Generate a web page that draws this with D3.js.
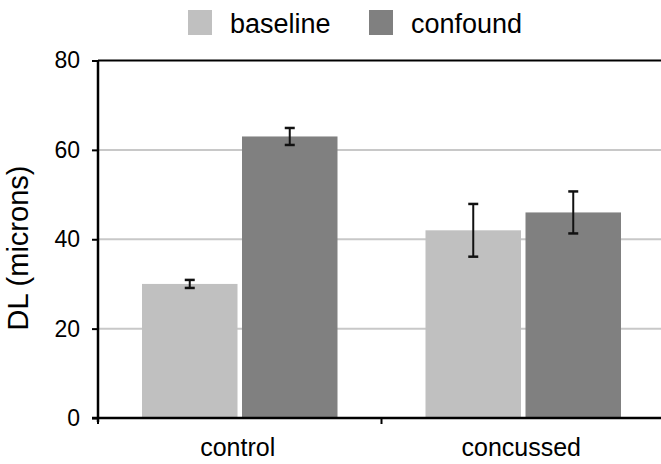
<!DOCTYPE html>
<html>
<head>
<meta charset="utf-8">
<script src="https://cdn.jsdelivr.net/npm/d3@7"></script>
<style>
  html, body { margin: 0; padding: 0; background: #fff; }
  svg { display: block; font-family: "Liberation Sans", Arial, sans-serif; }
</style>
</head>
<body>
<svg id="chart" width="661" height="464"></svg>
<script>
// Groups, series and measured means with error half-widths
const categories = ["control", "concussed"];
const seriesNames = ["baseline", "confound"];
const baselineMeans = [30, 42];
const confoundMeans = [63, 46];
const baselineErrors = [0.9, 5.9];
const confoundErrors = [1.9, 4.7];
const yTicks = [0, 20, 40, 60, 80];
const colors = ["#c0c0c0", "#808080"];

const rows = categories.map((c, i) => ({
  category: c,
  values: [
    { series: seriesNames[0], mean: baselineMeans[i], err: baselineErrors[i] },
    { series: seriesNames[1], mean: confoundMeans[i], err: confoundErrors[i] }
  ]
}));

const svg = d3.select("#chart");
const plotLeft = 98, plotRight = 665, plotTop = 60.5, plotBottom = 418;

const y = d3.scaleLinear().domain([0, 80]).range([plotBottom, plotTop]);
const x0 = d3.scaleBand().domain(categories).range([plotLeft, plotRight]);
const groupPad = 44;
const x1 = d3.scaleBand().domain(seriesNames)
  .range([groupPad, x0.bandwidth() - groupPad]).paddingInner(0.045);
const color = d3.scaleOrdinal().domain(seriesNames).range(colors);

// Horizontal gridlines
svg.append("g").selectAll("line")
  .data(yTicks.filter(t => t > 0 && t < 80))
  .join("line")
  .attr("x1", plotLeft).attr("x2", 661)
  .attr("y1", d => y(d)).attr("y2", d => y(d))
  .attr("stroke", "#c8c8c8").attr("stroke-width", 2);

// Bars
const groups = svg.append("g").selectAll("g")
  .data(rows).join("g")
  .attr("transform", d => `translate(${x0(d.category)},0)`);

groups.selectAll("rect")
  .data(d => d.values).join("rect")
  .attr("x", d => x1(d.series))
  .attr("width", x1.bandwidth())
  .attr("y", d => y(d.mean))
  .attr("height", d => y(0) - y(d.mean))
  .attr("fill", d => color(d.series));

// Error bars
const eb = groups.selectAll("g.err")
  .data(d => d.values).join("g").attr("class", "err")
  .attr("transform", d => `translate(${x1(d.series) + x1.bandwidth() / 2},0)`)
  .attr("stroke", "#111").attr("stroke-width", 2);
eb.append("line").attr("x1", 0).attr("x2", 0)
  .attr("y1", d => y(d.mean + d.err)).attr("y2", d => y(d.mean - d.err));
eb.append("line").attr("x1", -5).attr("x2", 5)
  .attr("y1", d => y(d.mean + d.err)).attr("y2", d => y(d.mean + d.err))
  .attr("stroke-width", 2.5);
eb.append("line").attr("x1", -5).attr("x2", 5)
  .attr("y1", d => y(d.mean - d.err)).attr("y2", d => y(d.mean - d.err))
  .attr("stroke-width", 2.5);

// Top border line at the axis maximum
svg.append("line")
  .attr("x1", plotLeft).attr("x2", 661)
  .attr("y1", y(80)).attr("y2", y(80))
  .attr("stroke", "#000").attr("stroke-width", 2);

// Y axis
const yAxis = svg.append("g")
  .attr("transform", `translate(${plotLeft},0)`)
  .call(d3.axisLeft(y).tickValues(yTicks).tickSize(6).tickPadding(12).tickSizeOuter(0));
yAxis.select(".domain").attr("stroke", "#000").attr("stroke-width", 2.5)
  .attr("d", `M0,${plotTop}V${plotBottom + 4}`);
yAxis.selectAll(".tick line").attr("stroke", "#000").attr("stroke-width", 2);
yAxis.selectAll(".tick text")
  .attr("font-size", 23).attr("fill", "#000")
  .attr("font-family", "Liberation Sans, Arial, sans-serif");

// X axis with ticks at group boundaries
const xAxis = svg.append("g");
xAxis.append("line")
  .attr("x1", plotLeft - 6).attr("x2", 661)
  .attr("y1", plotBottom).attr("y2", plotBottom)
  .attr("stroke", "#000").attr("stroke-width", 2.5);
xAxis.selectAll("line.tk")
  .data(categories.map(c => x0(c))).join("line").attr("class", "tk")
  .attr("x1", d => d).attr("x2", d => d)
  .attr("y1", plotBottom).attr("y2", plotBottom + 6)
  .attr("stroke", "#000").attr("stroke-width", 2);
xAxis.selectAll("text")
  .data(categories).join("text")
  .attr("x", d => x0(d) + x0.bandwidth() / 2 - 2)
  .attr("y", 456)
  .attr("text-anchor", "middle")
  .attr("font-size", 25).attr("fill", "#000")
  .text(d => d);

// Y axis title
svg.append("text")
  .attr("transform", "translate(28,248) rotate(-90)")
  .attr("text-anchor", "middle")
  .attr("font-size", 29).attr("fill", "#000")
  .text("DL (microns)");

// Legend
const legendX = [188, 369];
const legend = svg.append("g").selectAll("g")
  .data(seriesNames).join("g")
  .attr("transform", (d, i) => `translate(${legendX[i]},10)`);
legend.append("rect")
  .attr("width", 24).attr("height", 25)
  .attr("fill", d => color(d));
legend.append("text")
  .attr("x", 42).attr("y", 22.5)
  .attr("font-size", 27).attr("fill", "#000")
  .text(d => d);
</script>
</body>
</html>
